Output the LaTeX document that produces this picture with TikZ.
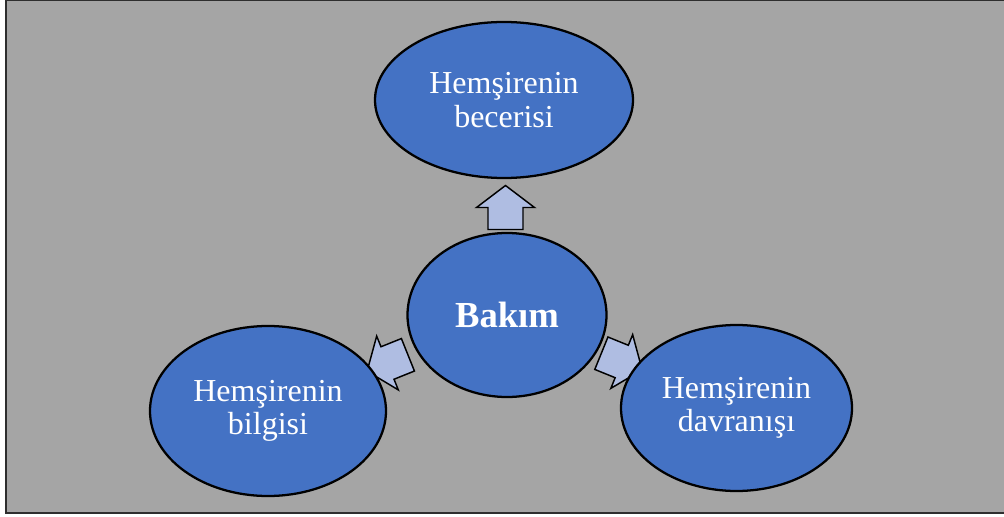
\documentclass[tikz,border=0pt]{standalone}
\usepackage{fontspec}
\setmainfont{Liberation Serif}
\usetikzlibrary{shapes.geometric,calc,backgrounds}
\definecolor{bggray}{HTML}{A5A5A5}
\definecolor{ellblue}{HTML}{4472C4}
\definecolor{arrfill}{HTML}{AFBDE2}
\definecolor{framecol}{HTML}{2E2E2E}
\begin{document}
\begin{tikzpicture}[x=0.75pt,y=-0.75pt,
  bubble/.style={ellipse, draw=black, line width=1.7pt, fill=ellblue, text=white,
    align=center, inner sep=0pt, font=\fontsize{24}{25}\selectfont},
  blockarrowstyle/.style={draw=black, fill=arrfill, line width=1.1pt, line join=miter},
  blockarrow/.pic={
    \draw[blockarrowstyle] (-22,-17.5) -- (0,-17.5) -- (0,-29) -- (22,0)
      -- (0,29) -- (0,17.5) -- (-22,17.5) -- cycle;
  }]
\useasboundingbox (0,0) rectangle (1004,517);

\node[bubble, minimum width=193.5pt, minimum height=117pt] (top) at (504,100) {Hemşirenin\\becerisi};
\node[bubble, minimum width=149.25pt, minimum height=123pt,
      font=\fontsize{27.5}{30}\selectfont\bfseries] (c) at (507,315) {Bakım};
\node[bubble, minimum width=177pt, minimum height=127.5pt] (left) at (268,411) {Hemşirenin\\bilgisi};
\node[bubble, minimum width=173.25pt, minimum height=124.5pt] (right) at (736.5,408) {Hemşirenin\\davranışı};

\begin{scope}[on background layer]
  \fill[bggray] (6,0) rectangle (1004,513);
  \draw[framecol, line width=1.6pt] (1004,0) -- (6,0) -- (6,513) -- (1004,513);
  \pic[rotate=90] at ($(c)!0.5!(top)$) {blockarrow};
  \pic[rotate=201.9] at ($(c)!0.5!(left)$) {blockarrow};
  \pic[rotate=-22.1] at ($(c)!0.5!(right)$) {blockarrow};
\end{scope}
\end{tikzpicture}
\end{document}
